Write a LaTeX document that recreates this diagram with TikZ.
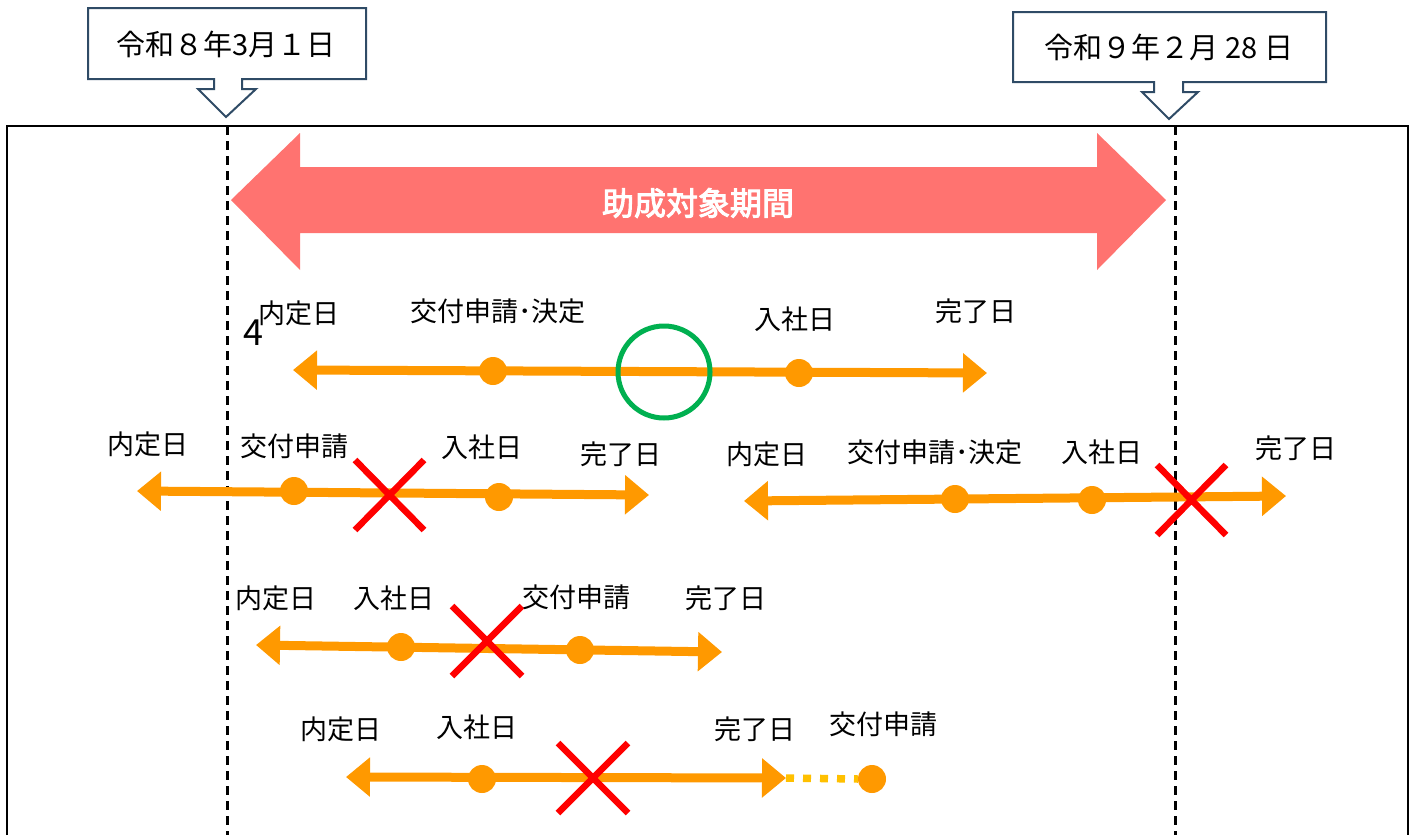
\documentclass[tikz,border=0pt]{standalone}
\usepackage{fontspec}
\setmainfont{Noto Sans CJK JP}
\newfontfamily\jpbold{Noto Sans CJK JP}[FakeBold=3]
\usetikzlibrary{arrows.meta}
\definecolor{ora}{HTML}{FF9900}
\definecolor{yel}{HTML}{FFC000}
\definecolor{sal}{HTML}{FF7370}
\definecolor{grn}{HTML}{00B050}
\definecolor{bluegray}{HTML}{2F4B66}
\tikzset{
  lbl/.style={font=\fontsize{27}{27}\selectfont, inner sep=0pt},
  tl/.style={ora, line width=9pt, arrows={Triangle[length=24pt,width=38pt]-Triangle[length=24pt,width=38pt]}},
  evdot/.style={circle, fill=ora, minimum size=28pt, inner sep=0pt},
  nogo/.style={red, line width=6.5pt},
  callout/.style={draw=bluegray, line width=2pt, fill=white, line join=miter},
  vline/.style={black, line width=3pt, dash pattern=on 9pt off 6pt},
}
\begin{document}
\begin{tikzpicture}[x=1pt,y=-1pt]
\useasboundingbox (0,0) rectangle (1413,835);
% frame
\draw[line width=2pt] (7,835) -- (7,126) -- (1408,126) -- (1408,835);
% callouts
\draw[callout] (88,8) -- (366,8) -- (366,79) -- (242,79) -- (242,89) -- (256,89) -- (226,117) -- (198,89) -- (214,89) -- (214,79) -- (88,79) -- cycle;
\node[font=\fontsize{29}{29}\selectfont, inner sep=0pt] (d1) at (226,44) {令和８年3月１日};
\draw[callout] (1013,12) -- (1326,12) -- (1326,82) -- (1183,82) -- (1183,92) -- (1198,92) -- (1169,119) -- (1142,92) -- (1154,92) -- (1154,82) -- (1013,82) -- cycle;
\node[font=\fontsize{29}{29}\selectfont, inner sep=0pt] (d2) at (1169,47) {令和９年２月 28 日};
% dashed boundaries
\coordinate (s1) at (227,126); \coordinate (e1) at (227,835);
\coordinate (s2) at (1175,126); \coordinate (e2) at (1175,835);
\draw[vline] (s1) -- (e1);
\draw[vline] (s2) -- (e2);
% big double arrow
\fill[sal] (231,200) -- (300,133) -- (300,167) -- (1097,167) -- (1097,133) -- (1166,200) -- (1097,270) -- (1097,233) -- (300,233) -- (300,270) -- cycle;
\node[text=white, font=\jpbold\fontsize{32}{32}\selectfont, inner sep=0pt] (period) at (698,203) {助成対象期間};

% Row 1
\coordinate (r1a) at (293,370); \coordinate (r1b) at (987,373);
\draw[tl] (r1a) -- (r1b);
\node[evdot] (r1d1) at (493,371) {};
\node[evdot] (r1d2) at (799,373) {};
\node[draw=grn, line width=5pt, circle, minimum size=92pt, inner sep=0pt] (ok) at (664,372) {};
\node[lbl] (l11) at (299,313) {内定日};
\node[font=\fontsize{36}{36}\selectfont, inner sep=0pt] (four) at (253,333) {4};
\node[lbl] (l12) at (498,311) {交付申請･決定};
\node[lbl] (l13) at (795,319) {入社日};
\node[lbl] (l14) at (976,311) {完了日};

% Row 2 left
\coordinate (r2a) at (137,491); \coordinate (r2b) at (649,495);
\draw[tl] (r2a) -- (r2b);
\node[evdot] (r2d1) at (294,491) {};
\node[evdot] (r2d2) at (499,497) {};
\draw[nogo] (355,460) -- (424,530) (424,460) -- (355,530);
\node[lbl] (l21) at (148,444) {内定日};
\node[lbl] (l22) at (294,446) {交付申請};
\node[lbl] (l23) at (482,447) {入社日};
\node[lbl] (l24) at (621,454) {完了日};

% Row 2 right
\coordinate (r3a) at (744,501); \coordinate (r3b) at (1286,496);
\draw[tl] (r3a) -- (r3b);
\node[evdot] (r3d1) at (955,499) {};
\node[evdot] (r3d2) at (1092,500) {};
\draw[nogo] (1157,465) -- (1226,535) (1226,465) -- (1157,535);
\node[lbl] (l31) at (767,454) {内定日};
\node[lbl] (l32) at (935,452) {交付申請･決定};
\node[lbl] (l33) at (1102,452) {入社日};
\node[lbl] (l34) at (1296,448) {完了日};

% Row 3
\coordinate (r4a) at (256,645); \coordinate (r4b) at (722,652);
\draw[tl] (r4a) -- (r4b);
\node[evdot] (r4d1) at (401,647) {};
\node[evdot] (r4d2) at (580,650) {};
\draw[nogo] (452,606) -- (522,676) (522,606) -- (452,676);
\node[lbl] (l41) at (276,598) {内定日};
\node[lbl] (l42) at (394,598) {入社日};
\node[lbl] (l43) at (576,597) {交付申請};
\node[lbl] (l44) at (726,598) {完了日};

% Row 4
\coordinate (r5a) at (346,777); \coordinate (r5b) at (786,778);
\draw[tl] (r5a) -- (r5b);
\node[evdot] (r5d1) at (482,779) {};
\node[evdot] (r5d2) at (872,779) {};
\draw[yel, line width=7.5pt, dash pattern=on 8pt off 9pt] (r5b) -- (r5d2.west);
\draw[nogo] (558,743) -- (628,813) (628,743) -- (558,813);
\node[lbl] (l51) at (341,729) {内定日};
\node[lbl] (l52) at (477,727) {入社日};
\node[lbl] (l53) at (755,729) {完了日};
\node[lbl] (l54) at (883,724) {交付申請};
\end{tikzpicture}
\end{document}
